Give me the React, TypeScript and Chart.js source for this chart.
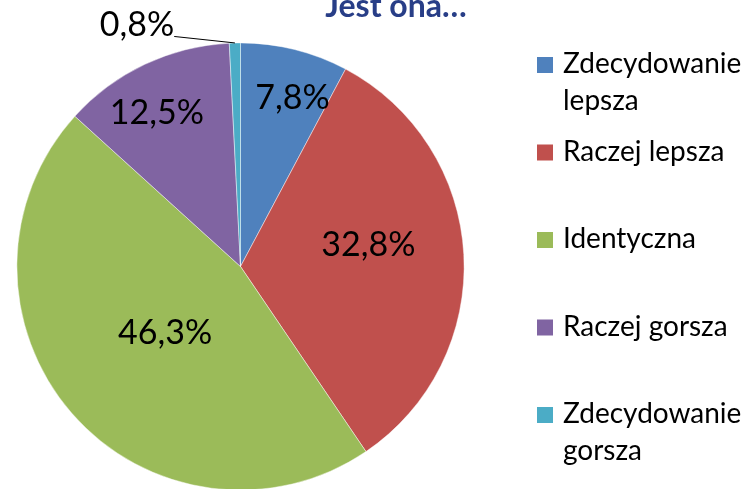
import React, { useEffect, useRef } from "react";
import { Chart, registerables } from "chart.js";

Chart.register(...registerables);

const categories = [
  "Zdecydowanie lepsza",
  "Raczej lepsza",
  "Identyczna",
  "Raczej gorsza",
  "Zdecydowanie gorsza",
];
const values = [7.8, 32.8, 46.3, 12.5, 0.8];
const colors = ["#4F81BD", "#C0504D", "#9BBB59", "#8064A2", "#4BACC6"];
const titleText = "Jest ona…";

const FONT = "Lato, 'Open Sans', sans-serif";

const fmt = (v: number) => v.toFixed(1).replace(".", ",") + "%";

const labelPlugin = {
  id: "pieLabels",
  afterDatasetsDraw(chart: any, _args: any, opts: any) {
    const ctx = chart.ctx;
    const meta = chart.getDatasetMeta(0);
    ctx.save();
    ctx.font = `${opts.size}px ${FONT}`;
    ctx.fillStyle = "#000";
    ctx.textAlign = "center";
    ctx.textBaseline = "middle";
    meta.data.forEach((arc: any, i: number) => {
      const { x, y, startAngle, endAngle, outerRadius } = arc.getProps(
        ["x", "y", "startAngle", "endAngle", "outerRadius"],
        true
      );
      const mid = (startAngle + endAngle) / 2;
      const p = opts.place[i];
      const a = mid + (p.da * Math.PI) / 180;
      const r = outerRadius * p.r;
      const lx = x + Math.cos(a) * r;
      const ly = y + Math.sin(a) * r;
      const text = fmt(chart.data.datasets[0].data[i]);
      ctx.fillText(text, lx, ly);
      if (p.leader) {
        const w = ctx.measureText(text).width;
        const ex = x + Math.cos(mid) * outerRadius;
        const ey = y + Math.sin(mid) * outerRadius;
        ctx.beginPath();
        ctx.moveTo(lx + w / 2, ly + 11);
        ctx.lineTo(ex, ey);
        ctx.strokeStyle = "#000";
        ctx.lineWidth = 1;
        ctx.stroke();
      }
    });
    ctx.restore();
  },
};

const sideLegendPlugin = {
  id: "sideLegend",
  afterDraw(chart: any, _args: any, opts: any) {
    const ctx = chart.ctx;
    ctx.save();
    ctx.font = `${opts.size}px ${FONT}`;
    ctx.textBaseline = "alphabetic";
    ctx.textAlign = "left";
    const labels: string[] = chart.data.labels;
    const bg: string[] = chart.data.datasets[0].backgroundColor;
    labels.forEach((label, i) => {
      const base = opts.firstBaseline + i * opts.itemGap;
      const words = label.split(" ");
      const lines: string[] = [];
      let cur = "";
      words.forEach((w) => {
        const test = cur ? cur + " " + w : w;
        if (cur && ctx.measureText(test).width > opts.maxWidth) {
          lines.push(cur);
          cur = w;
        } else cur = test;
      });
      if (cur) lines.push(cur);
      ctx.fillStyle = bg[i];
      ctx.fillRect(opts.markerX, base - opts.markerSize, opts.markerSize, opts.markerSize);
      ctx.fillStyle = "#000";
      lines.forEach((ln, j) => {
        ctx.fillText(ln, opts.textX, base + j * opts.lineHeight);
      });
    });
    ctx.font = `bold ${opts.titleSize}px ${FONT}`;
    ctx.fillStyle = "#283E87";
    ctx.textAlign = "center";
    ctx.fillText(titleText, opts.titleX, opts.titleBaseline);
    ctx.restore();
  },
};

export default function App() {
  const ref = useRef<HTMLCanvasElement | null>(null);
  useEffect(() => {
    let chart: Chart | null = null;
    let cancelled = false;
    const make = () => {
      if (cancelled || !ref.current) return;
      chart = new Chart(ref.current, {
        type: "pie",
        data: {
          labels: categories,
          datasets: [
            {
              data: values,
              backgroundColor: colors,
              borderColor: "rgba(255,255,255,0.6)",
              borderWidth: 0.75,
            },
          ],
        },
        options: {
          responsive: false,
          animation: false,
          devicePixelRatio: 1,
          layout: { padding: { left: 16.5, top: 42.5, right: 283.5, bottom: 1.5 } },
          plugins: {
            legend: { display: false },
            title: { display: false },
            tooltip: { enabled: false },
            pieLabels: {
              size: 34,
              place: [
                { r: 0.79, da: 3.1 },
                { r: 0.58, da: -6.6 },
                { r: 0.45, da: -0.5 },
                { r: 0.78, da: -3.3 },
                { r: 1.173, da: -21.8, leader: true },
              ],
            },
            sideLegend: {
              size: 28,
              markerX: 537,
              markerSize: 16,
              textX: 563,
              firstBaseline: 73,
              itemGap: 87.5,
              lineHeight: 37,
              maxWidth: 185,
              titleSize: 32,
              titleX: 396,
              titleBaseline: 16.7,
            },
          } as any,
        },
        plugins: [labelPlugin, sideLegendPlugin],
      });
    };
    const fonts: any = (document as any).fonts;
    if (fonts && fonts.load) {
      Promise.all([fonts.load(`28px Lato`), fonts.load(`bold 32px Lato`)])
        .catch(() => {})
        .then(make);
    } else make();
    return () => {
      cancelled = true;
      if (chart) chart.destroy();
    };
  }, []);
  return (
    <div
      style={{
        position: "fixed",
        left: 0,
        top: 0,
        width: 748,
        height: 489,
        overflow: "hidden",
        background: "#fff",
      }}
    >
      <canvas ref={ref} width={748} height={492} style={{ display: "block" }} />
    </div>
  );
}
